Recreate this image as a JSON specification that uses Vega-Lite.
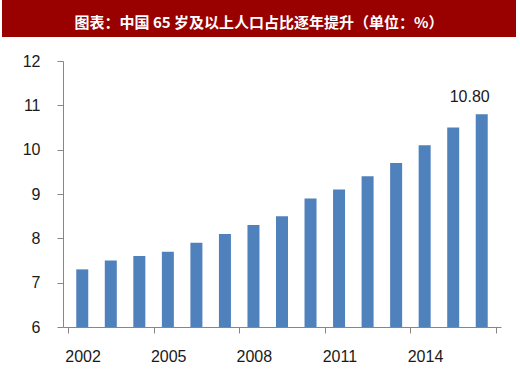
{
  "$schema": "https://vega.github.io/schema/vega-lite/v6.json",
  "background": "white",
  "padding": {"left": 2, "top": 0, "right": 2, "bottom": 0},
  "spacing": 24,
  "columns": 1,
  "bounds": "flush",
  "config": {"view": {"stroke": null}, "font": "Liberation Sans"},
  "datasets": {
    "titleRow": [{"t": "图表：中国 65 岁及以上人口占比逐年提升（单位：%）"}],
    "spacerRow": [{"s": ""}],
    "pop": [
      {"year": 2002, "value": 7.3},
      {"year": 2003, "value": 7.5},
      {"year": 2004, "value": 7.6},
      {"year": 2005, "value": 7.7},
      {"year": 2006, "value": 7.9},
      {"year": 2007, "value": 8.1},
      {"year": 2008, "value": 8.3},
      {"year": 2009, "value": 8.5},
      {"year": 2010, "value": 8.9},
      {"year": 2011, "value": 9.1},
      {"year": 2012, "value": 9.4},
      {"year": 2013, "value": 9.7},
      {"year": 2014, "value": 10.1},
      {"year": 2015, "value": 10.5},
      {"year": 2016, "value": 10.8}
    ]
  },
  "concat": [
    {
      "width": 514,
      "height": 37,
      "view": {"fill": "#990000", "stroke": null},
      "data": {"name": "titleRow"},
      "mark": {"type": "text", "color": "white", "fontWeight": "bold", "fontSize": 15, "font": "Noto Sans CJK SC", "dy": 4},
      "encoding": {"text": {"field": "t", "type": "nominal"}}
    },
    {
      "hconcat": [
        {
          "width": 61,
          "height": 266,
          "data": {"name": "spacerRow"},
          "mark": {"type": "text", "opacity": 0},
          "encoding": {"text": {"field": "s", "type": "nominal"}}
        },
        {
          "width": 438,
          "height": 266,
          "data": {"name": "pop"},
          "encoding": {
            "x": {
              "field": "year",
              "type": "quantitative",
              "scale": {"domain": [2001.5, 2016.5], "nice": false, "zero": false},
              "axis": {
                "title": null,
                "values": [2001.5, 2004.5, 2007.5, 2010.5, 2013.5, 2016.5],
                "labelExpr": "datum.value < 2016 ? toString(datum.value + 0.5) : ''",
                "labelOffset": 14.6,
                "labelFontSize": 16,
                "labelColor": "#1a1a1a",
                "labelPadding": 15,
                "tickSize": 6,
                "tickColor": "#868686",
                "domainColor": "#868686",
                "grid": false,
                "labelFlush": false,
                "labelOverlap": false
              }
            },
            "y": {
              "field": "value",
              "type": "quantitative",
              "scale": {"domain": [6, 12], "nice": false, "zero": false},
              "axis": {
                "title": null,
                "values": [6, 7, 8, 9, 10, 11, 12],
                "labelFontSize": 16,
                "labelColor": "#1a1a1a",
                "labelPadding": 17,
                "tickSize": 6,
                "tickColor": "#868686",
                "domainColor": "#868686",
                "grid": false
              }
            }
          },
          "layer": [
            {
              "mark": {"type": "bar", "size": 12, "color": "#4f81bd"},
              "encoding": {"y2": {"datum": 6}}
            },
            {
              "transform": [{"filter": "datum.year == 2016"}],
              "mark": {"type": "text", "dy": -17, "dx": -12, "fontSize": 16, "color": "#1a1a1a"},
              "encoding": {"text": {"field": "value", "type": "quantitative", "format": ".2f"}}
            }
          ]
        }
      ],
      "spacing": 0,
      "bounds": "flush"
    }
  ]
}
